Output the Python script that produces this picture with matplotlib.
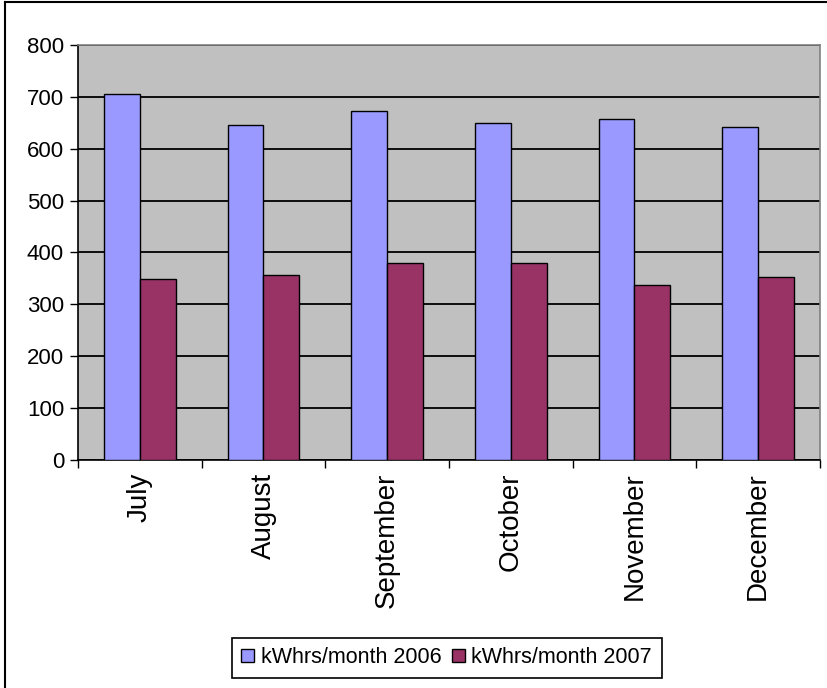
import numpy as np
import matplotlib.pyplot as plt
from matplotlib.lines import Line2D

months = ['July', 'August', 'September', 'October', 'November', 'December']
kwh_2006 = [706, 646, 673, 650, 658, 642]
kwh_2007 = [348, 356, 379, 379, 337, 352]
labels = ['kWhrs/month 2006', 'kWhrs/month 2007']

plt.rcParams['font.family'] = ['Liberation Sans', 'DejaVu Sans']

fig = plt.figure(figsize=(8.27, 6.88), dpi=100)
ax = fig.add_axes([0.0943, 0.3314, 0.8972, 0.6032])

x = np.arange(len(months))
w = 0.29
ax.bar(x - w / 2, kwh_2006, w, color='#9999FF', edgecolor='black', linewidth=1, label=labels[0], zorder=3)
ax.bar(x + w / 2, kwh_2007, w, color='#993366', edgecolor='black', linewidth=1, label=labels[1], zorder=3)

ax.set_facecolor('#C0C0C0')
ax.set_xlim(-0.5, len(months) - 0.5)
ax.set_ylim(0, 800)
ax.set_yticks(range(0, 801, 100))
ax.yaxis.grid(True, color='black', linewidth=1.3, zorder=1)
ax.set_axisbelow(True)

# category labels between boundary ticks
ax.set_xticks(np.arange(-0.5, len(months), 1))
ax.set_xticklabels([])
ax.set_xticks(x, minor=True)
ax.set_xticklabels(months, minor=True, rotation=90, fontsize=20)
ax.tick_params(axis='x', which='minor', length=0, pad=9)
ax.tick_params(axis='x', which='major', length=6, width=1, direction='out')
ax.tick_params(axis='y', length=6, width=1, labelsize=16, pad=4)

for s in ['top', 'right']:
    ax.spines[s].set_color('#808080')
    ax.spines[s].set_linewidth(1.2)
for s in ['left', 'bottom']:
    ax.spines[s].set_color('black')
    ax.spines[s].set_linewidth(1.2)

leg = fig.legend(loc='center', bbox_to_anchor=(0.54, 0.044), ncol=2, fontsize=15.5,
                 frameon=True, fancybox=False, edgecolor='black', framealpha=1,
                 handlelength=0.6, handleheight=0.6, handletextpad=0.3,
                 columnspacing=0.5, borderpad=0.45)
leg.get_frame().set_linewidth(1.2)

# chart border: only left and top edges are visible in the original
fig.add_artist(Line2D([0.006, 0.006], [0, 0.997], transform=fig.transFigure, color='black', linewidth=1.5))
fig.add_artist(Line2D([0.006, 1], [0.997, 0.997], transform=fig.transFigure, color='black', linewidth=1.5))

fig.savefig('out.png', dpi=100)
